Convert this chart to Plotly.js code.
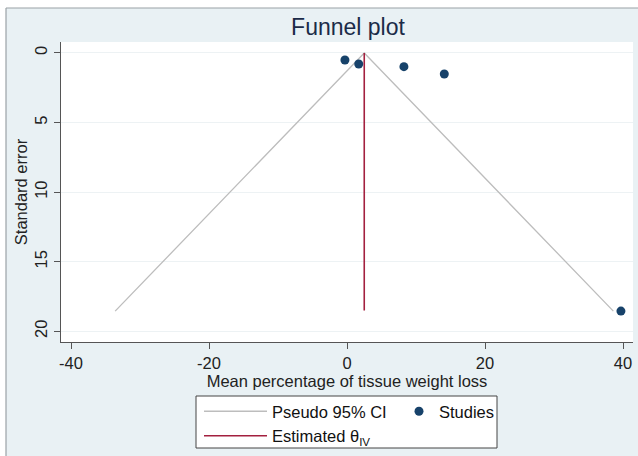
<!DOCTYPE html>
<html><head><meta charset="utf-8">
<script src="https://cdn.plot.ly/plotly-3.0.1.min.js"></script>
<style>html,body{margin:0;padding:0;background:#fff}#chart{width:638px;height:456px}</style>
</head><body><div id="chart"></div>
<script>
// Data
const studyEffect = [-0.3, 1.7, 8.25, 14.1, 39.7];
const studySE = [0.5, 0.79, 0.98, 1.51, 18.55];
const pooledEstimate = [2.5, 2.5];
const pooledSE = [0, 18.5];
const ciX = [-33.6, 2.5, 38.6];
const ciY = [18.55, 0, 18.55];
const xTicks = [-40, -20, 0, 20, 40];
const yTicks = [0, 5, 10, 15, 20];

const font = 'Liberation Sans, Arial, sans-serif';
const traces = [
  {x: ciX, y: ciY, type: 'scatter', mode: 'lines', name: 'Pseudo 95% CI',
   line: {color: '#bdbdbd', width: 1.3}, legend: 'legend'},
  {x: pooledEstimate, y: pooledSE, type: 'scatter', mode: 'lines', name: 'Estimated θ<sub>IV</sub>',
   line: {color: '#a3203f', width: 1.6}, legend: 'legend'},
  {x: studyEffect, y: studySE, type: 'scatter', mode: 'markers', name: 'Studies',
   marker: {color: '#17426a', size: 9}, legend: 'legend2'}
];

const L = 61, R = 5, T = 42, B = 114, W = 638, H = 456;
const pw = W - L - R, ph = H - T - B;
const px = v => (v - L) / pw;
const py = v => (H - B - v) / ph;

const layout = {
  width: W, height: H,
  margin: {l: L, r: R, t: T, b: B, pad: 0, autoexpand: false},
  paper_bgcolor: '#e9f1f4',
  plot_bgcolor: '#ffffff',
  font: {family: font, size: 16.5, color: '#222'},
  title: {text: 'Funnel plot', x: px(348), xanchor: 'center', xref: 'paper', y: 1 - 27/H, yanchor: 'middle',
          font: {family: font, size: 23, color: '#1b2b48'}},
  showlegend: true,
  xaxis: {range: [-41.45, 41.45], tickvals: xTicks, ticktext: xTicks.map(String),
          showline: true, linecolor: '#555', linewidth: 1, ticks: 'outside', ticklen: 6, tickcolor: '#555',
          showgrid: false, zeroline: false, tickfont: {size: 16.5, color: '#222'},
          title: {text: 'Mean percentage of tissue weight loss', standoff: 0, font: {size: 16.5, color: '#222'}}},
  yaxis: {range: [20.77, -0.79], tickvals: yTicks, ticktext: yTicks.map(String), tickangle: -90,
          showline: true, linecolor: '#555', linewidth: 1, ticks: 'outside', ticklen: 6, tickcolor: '#555',
          showgrid: true, gridcolor: '#edf2f4', gridwidth: 1, zeroline: false, tickfont: {size: 16.5, color: '#222'},
          title: {text: 'Standard error', standoff: 0, font: {size: 16.5, color: '#222'}}},
  legend: {x: px(199), y: py(394), xanchor: 'left', yanchor: 'top', orientation: 'v',
           bgcolor: 'rgba(0,0,0,0)', borderwidth: 0, itemwidth: 63, tracegroupgap: 0,
           font: {size: 16.5, color: '#111'}},
  legend2: {x: px(399), y: py(394), xanchor: 'left', yanchor: 'top', orientation: 'v',
           bgcolor: 'rgba(0,0,0,0)', borderwidth: 0, itemwidth: 30,
           font: {size: 16.5, color: '#111'}},
  shapes: [
    {type: 'rect', xref: 'paper', yref: 'paper', x0: px(-5), x1: px(W + 5), y0: py(-5), y1: py(8),
     fillcolor: '#ffffff', line: {width: 0}, layer: 'below'},
    {type: 'rect', xref: 'paper', yref: 'paper', x0: px(-5), x1: px(6), y0: py(H + 5), y1: py(-5),
     fillcolor: '#ffffff', line: {width: 0}, layer: 'below'},
    {type: 'line', xref: 'paper', yref: 'paper', x0: px(6), x1: px(W + 5), y0: py(8), y1: py(8),
     line: {color: '#9aa2a6', width: 1.2}},
    {type: 'line', xref: 'paper', yref: 'paper', x0: px(6), x1: px(6), y0: py(8), y1: py(H + 5),
     line: {color: '#9aa2a6', width: 1.2}},
    {type: 'rect', xref: 'paper', yref: 'paper', x0: px(196), x1: px(497), y0: py(448), y1: py(396),
     fillcolor: '#ffffff', line: {color: '#444', width: 1}, layer: 'above'}
  ]
};
Plotly.newPlot('chart', traces, layout, {staticPlot: true, displayModeBar: false});
</script></body></html>
